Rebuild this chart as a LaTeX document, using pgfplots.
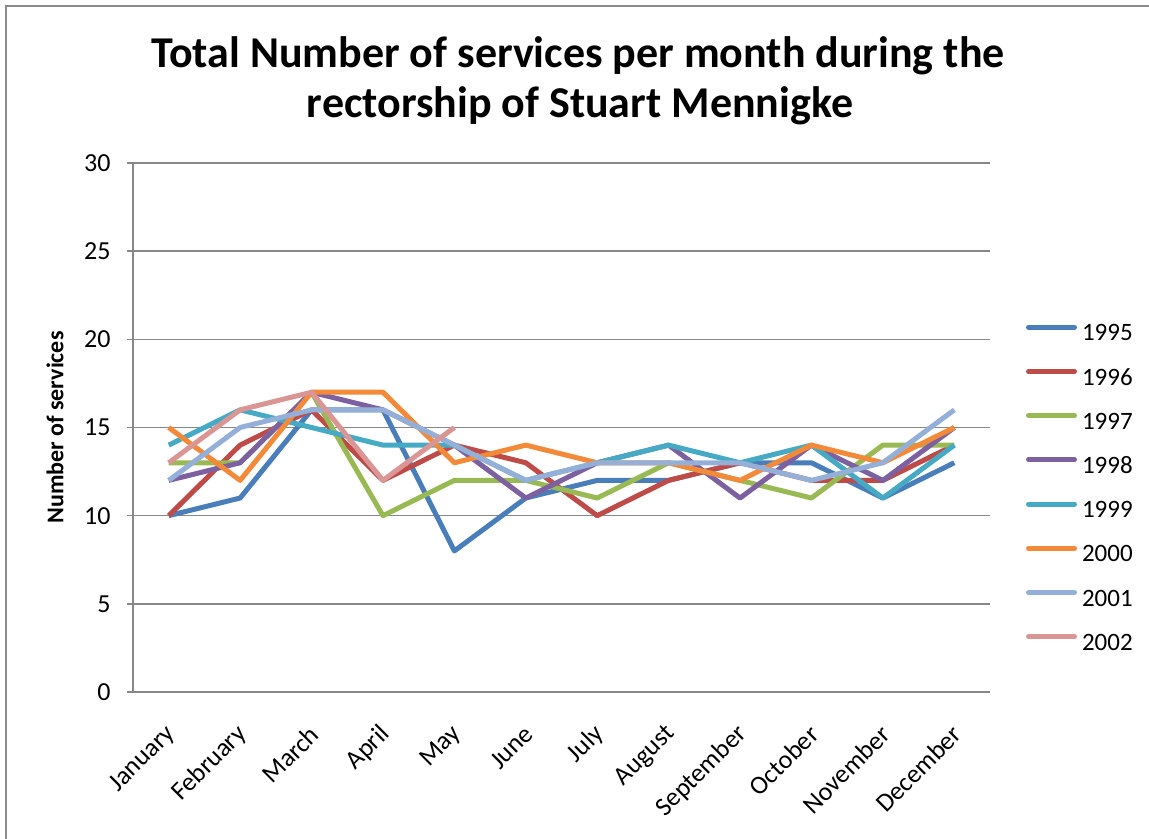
\documentclass[border=0pt]{standalone}
\usepackage{fontspec}
\setmainfont{Carlito}
\usepackage{pgfplots}
\pgfplotsset{compat=1.18}
\usepackage{pgfplotstable}
\definecolor{gridgray}{HTML}{878787}
\definecolor{frame}{HTML}{8C8C8C}
\definecolor{cA}{HTML}{4A7EBB}
\definecolor{cB}{HTML}{BE4B48}
\definecolor{cC}{HTML}{98B954}
\definecolor{cD}{HTML}{7D60A0}
\definecolor{cE}{HTML}{46AAC5}
\definecolor{cF}{HTML}{F28A3A}
\definecolor{cG}{HTML}{95B0D8}
\definecolor{cH}{HTML}{D99694}
\pgfplotstableread{
m a b c d e f g
0 10 10 13 12 14 15 12
1 11 14 13 13 16 12 15
2 16 16 17 17 15 17 16
3 16 12 10 16 14 17 16
4 8 14 12 14 14 13 14
5 11 13 12 11 12 14 12
6 12 10 11 13 13 13 13
7 12 12 13 14 14 13 13
8 13 13 12 11 13 12 13
9 13 12 11 14 14 14 12
10 11 12 14 12 11 13 13
11 13 14 14 15 14 15 16
}\data
\begin{document}
\begin{tikzpicture}
\path[use as bounding box] (0,0) rectangle (574.5pt,419.5pt);
\draw[frame, line width=1pt] (3pt,-2pt) -- (3pt,416.5pt) -- (577pt,416.5pt);
\node[anchor=base, font=\bfseries\fontsize{22}{25}\selectfont] at (289pt,385.5pt) {Total Number of services per month during the};
\node[anchor=base, font=\bfseries\fontsize{22}{25}\selectfont] at (290pt,360.5pt) {rectorship of Stuart Mennigke};
\begin{axis}[
  at={(66.5pt,73.5pt)}, anchor=south west,
  scale only axis, width=428.5pt, height=264.5pt,
  xmin=-0.5, xmax=11.5, ymin=0, ymax=30,
  xtick={0,...,11},
  xticklabels={January,February,March,April,May,June,July,August,September,October,November,December},
  ytick={0,5,...,30},
  ymajorgrids, grid style={gridgray, line width=0.75pt},
  axis lines*=left,
  axis line style={gridgray, line width=0.75pt},
  tick align=outside,
  major tick length=3pt,
  xtick style={draw=none},
  ytick style={gridgray, line width=0.75pt},
  /pgf/number format/assume math mode=true,
  tick label style={font=\fontsize{13}{15}\selectfont, text=black},
  yticklabel style={anchor=east, inner sep=0pt, xshift=-8pt},
  xticklabel style={xshift=1.5pt, yshift=-16pt, rotate=45, anchor=east, inner sep=0pt},
  ylabel={Number of services},
  ylabel style={font=\bfseries\fontsize{12}{14}\selectfont, at={(axis description cs:-0.091,0.5)}, anchor=center, rotate=0},
  legend style={draw=none, fill=none, at={(1.042,0.696)}, anchor=north west, inner sep=0pt, outer sep=0pt,
    row sep=11.1pt, column sep=2.5pt, font=\fontsize{12.5}{14}\selectfont,
    nodes={inner sep=0pt, text height=8.5pt, text depth=2.5pt}},
  legend cell align=left,
  legend image code/.code={\draw[#1, line width=2.5pt, line cap=round] (1.25pt,3.8pt) -- (24.25pt,3.8pt);},
  every axis plot/.append style={line width=2.5pt, line join=round, mark=none},
]
\addplot[cA] table[x=m,y=a]{\data};
\addlegendentry{1995}
\addplot[cB] table[x=m,y=b]{\data};
\addlegendentry{1996}
\addplot[cC] table[x=m,y=c]{\data};
\addlegendentry{1997}
\addplot[cD] table[x=m,y=d]{\data};
\addlegendentry{1998}
\addplot[cE] table[x=m,y=e]{\data};
\addlegendentry{1999}
\addplot[cF] table[x=m,y=f]{\data};
\addlegendentry{2000}
\addplot[cG] table[x=m,y=g]{\data};
\addlegendentry{2001}
\addplot[cH] coordinates {(0,13) (1,16) (2,17) (3,12) (4,15)};
\addlegendentry{2002}
\end{axis}
\end{tikzpicture}
\end{document}
